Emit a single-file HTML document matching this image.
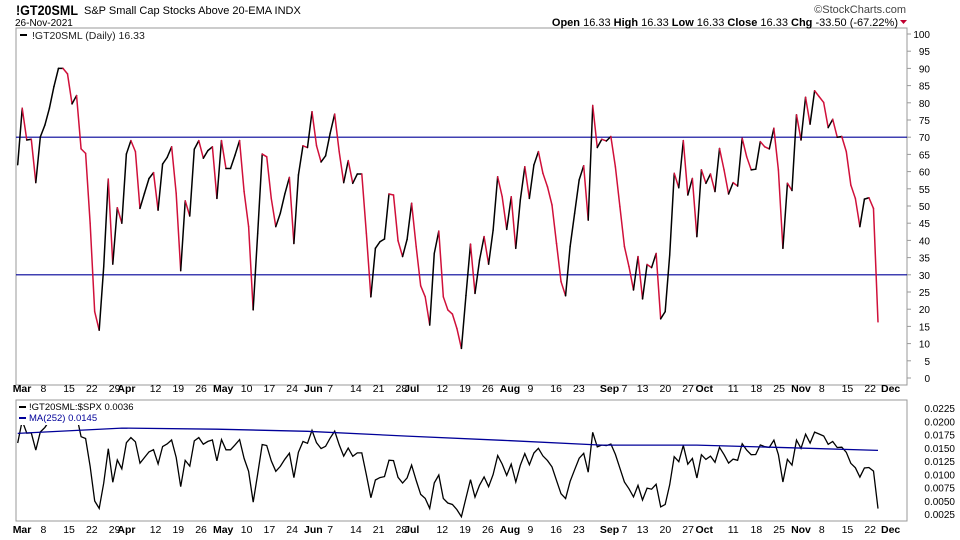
<!DOCTYPE html>
<html><head><meta charset="utf-8"><style>
body{margin:0;background:#fff;width:960px;height:540px;overflow:hidden}
svg{display:block;font-family:"Liberation Sans",sans-serif}
</style></head><body>
<svg id="c" width="960" height="540"></svg>
<script>
const upperValues=[62.0,78.4,69.2,69.4,56.8,70.1,73.5,78.4,84.7,90,90,88.4,79.7,82.1,66.6,65.3,45,19.3,13.9,32.4,57.8,33.1,49.5,45.0,65.1,69.0,65.8,49.3,53.7,58.0,59.7,48.8,62.2,64.1,67.2,53.7,31.2,51.5,47.1,66.5,69.0,63.9,66.1,67.2,52.2,69.0,60.9,60.9,64.8,69.0,54.2,44.0,19.8,42,65.1,64.3,52.2,44.0,47.9,53.5,58.3,39.1,59.0,67.5,67.0,77.4,67.5,62.8,64.6,71.1,76.7,65.8,56.8,63.2,56.6,59.3,59.3,42.1,23.6,37.7,39.6,40.4,53.5,53.2,39.9,35.3,40.3,50.8,38.2,26.8,23.6,15.4,36.2,42.7,23.6,19.8,18.6,14.4,8.6,24,38.9,24.6,34.3,
41.1,33.1,43.0,58.5,52.7,43.2,52.7,37.7,51.7,61.4,52.2,61.9,65.8,59.5,55.6,50.3,39.1,28.0,23.9,38.2,47.9,57.6,61.7,45.9,79.2,67.0,69.4,68.9,70.2,61.4,49.8,38.2,32.4,25.6,35.3,23.0,33.0,32.1,36.2,17.2,19.3,35.8,59.5,55.3,69.0,53.2,58.0,41.1,60.5,56.6,59.3,54.2,66.7,60.5,53.5,56.8,55.8,69.7,64.3,60.5,60.7,68.7,67.2,66.6,72.6,60.5,37.7,56.6,54.5,76.5,69.2,81.6,73.8,83.5,81.8,80.1,72.8,75.2,70.0,70.2,65.8,56.1,52.2,44.0,52.0,52.4,49.3,16.33];
const spxMonthly=[3900,4080,4170,4230,4330,4420,4470,4420,4650];
const maMonthly=[0.0177,0.0187,0.0185,0.0181,0.0172,0.0164,0.0155,0.0155,0.0150,0.0145];
const upperTicks=[0,5,10,15,20,25,30,35,40,45,50,55,60,65,70,75,80,85,90,95,100];
const lowerTicks=[0.0025,0.005,0.0075,0.01,0.0125,0.015,0.0175,0.02,0.0225];
const refLines=[70,30];
const monthNames=["Jan","Feb","Mar","Apr","May","Jun","Jul","Aug","Sep","Oct","Nov","Dec"];

const NS="http://www.w3.org/2000/svg";
const svg=document.getElementById('c');
function mk(t,a,p){const e=document.createElementNS(NS,t);for(const k in a)e.setAttribute(k,a[k]);(p||svg).appendChild(e);return e;}
const hol=["2021-04-02","2021-05-31","2021-07-05","2021-09-06","2021-11-25"];
const dates=[];
for(let d=new Date(Date.UTC(2021,2,1));d<=new Date(Date.UTC(2021,10,26));d.setUTCDate(d.getUTCDate()+1)){
 const w=d.getUTCDay(),s=d.toISOString().slice(0,10);
 if(w>0&&w<6&&hol.indexOf(s)<0)dates.push(new Date(d));
}
const N=upperValues.length;
const X0=17.7,X1=878;
const xs=i=>X0+i*(X1-X0)/(N-1);
const yU=v=>378-v*3.44;
const yL=v=>408+(0.0225-v)/0.02*106;

mk('rect',{x:16,y:28,width:891,height:357,fill:'none',stroke:'#999'});
mk('rect',{x:16,y:400,width:891,height:121,fill:'none',stroke:'#999'});

let t=mk('text',{x:16,y:15,'font-size':14,'font-weight':'bold',textLength:62,lengthAdjust:'spacingAndGlyphs'});t.textContent='!GT20SML';
t=mk('text',{x:84,y:14,'font-size':11});t.textContent='S&P Small Cap Stocks Above 20-EMA  INDX';
t=mk('text',{x:15,y:26,'font-size':10});t.textContent='26-Nov-2021';
t=mk('text',{x:906,y:13,'font-size':11,'text-anchor':'end',fill:'#444'});t.textContent='©StockCharts.com';
t=mk('text',{x:898,y:26,'font-size':11,'text-anchor':'end'});
t.innerHTML='<tspan font-weight="bold">Open</tspan> 16.33  <tspan font-weight="bold">High</tspan> 16.33  <tspan font-weight="bold">Low</tspan> 16.33  <tspan font-weight="bold">Close</tspan> 16.33  <tspan font-weight="bold">Chg</tspan> -33.50 (-67.22%)';

t=mk('path',{d:'M900,20 l7,0 l-3.5,4z',fill:'#c00030'});

upperTicks.forEach(v=>{
 const l=mk('line',{x1:907,x2:911,y1:yU(v),y2:yU(v),stroke:'#999'});
 const tx=mk('text',{x:930,y:yU(v)+4,'font-size':10,'text-anchor':'end'});tx.textContent=v;
});
refLines.forEach(v=>{const l=mk('line',{x1:16,x2:907,y1:yU(v),y2:yU(v),stroke:'#000099','stroke-width':1.2});});
lowerTicks.forEach(v=>{
 const tx=mk('text',{x:955,y:yL(v)+4,'font-size':10,'text-anchor':'end'});tx.textContent=v.toFixed(4);
});

for(let i=1;i<N;i++){
 const l=mk('line',{x1:xs(i-1),y1:yU(upperValues[i-1]),x2:xs(i),y2:yU(upperValues[i]),stroke:upperValues[i]<upperValues[i-1]?'#d0103a':'#000','stroke-width':1.5,'stroke-linecap':'round'});
 
 
}
t=mk('line',{x1:20,x2:27,y1:35,y2:35,stroke:'#000','stroke-width':2});
t=mk('text',{x:32,y:39,'font-size':10.5,fill:'#222'});t.textContent='!GT20SML (Daily) 16.33';

const mOf=i=>dates[Math.min(i,dates.length-1)].getUTCMonth()-2;
const ratio=upperValues.map((v,i)=>v/spxMonthly[mOf(i)]);
const cp=mk('clipPath',{id:'lc'});mk('rect',{x:16,y:400,width:891,height:121},cp);
let pts=ratio.map((v,i)=>xs(i).toFixed(1)+','+yL(v).toFixed(1)).join(' ');
t=mk('polyline',{points:pts,fill:'none',stroke:'#000','stroke-width':1.3,'clip-path':'url(#lc)'});
const maX=[];for(let m=0;m<9;m++){const idx=dates.findIndex(d=>d.getUTCMonth()===m+2);maX.push(xs(idx));}maX.push(xs(N-1));
pts=maMonthly.map((v,i)=>maX[i].toFixed(1)+','+yL(v).toFixed(1)).join(' ');
t=mk('polyline',{points:pts,fill:'none',stroke:'#000099','stroke-width':1.3});
t=mk('rect',{x:17,y:401,width:130,height:24,fill:'#fff'});
t=mk('line',{x1:19,x2:26,y1:407,y2:407,stroke:'#000','stroke-width':2});
t=mk('text',{x:29,y:410,'font-size':9.5});t.textContent='!GT20SML:$SPX 0.0036';
t=mk('line',{x1:19,x2:26,y1:418,y2:418,stroke:'#000099','stroke-width':2});
t=mk('text',{x:29,y:421,'font-size':9.5,fill:'#000099'});t.textContent='MA(252) 0.0145';

const scale=(N-1)/(dates.length-1);
function xDate(i){return X0+i*scale*(X1-X0)/(N-1);}
const monthIdx=[];
for(let i=0;i<dates.length;i++){if(i===0||dates[i-1].getUTCMonth()!==dates[i].getUTCMonth())monthIdx.push(i);}
for(let i=0;i<dates.length;i++){
 const d=dates[i],prev=dates[i-1];
 const monthStart=monthIdx.indexOf(i)>=0;
 let weekStart=!prev||d.getUTCDay()<=prev.getUTCDay()||(d-prev)>3*864e5;
 if(!monthStart&&weekStart&&monthIdx.some(m=>Math.abs(m-i)<=2))weekStart=false;
 if(!monthStart&&!weekStart)continue;
 const afterMonth=!monthStart&&monthIdx.some(m=>i-m===3);
 const x=xDate(i);
 const lbl=monthStart?monthNames[d.getUTCMonth()]:String(d.getUTCDate());
 [392,533].forEach((yy,k)=>{
  const tx=mk('text',{x:monthStart?x-5:(afterMonth?x+3:x),y:yy,'font-size':monthStart?10.5:10.5,'font-weight':monthStart?'bold':'normal'});
  tx.textContent=lbl;
  
  
 });
}
[392,533].forEach(yy=>{const tx=mk('text',{x:881,y:yy,'font-size':10.5,'font-weight':'bold'});tx.textContent='Dec';

});
</script>
</body></html>
